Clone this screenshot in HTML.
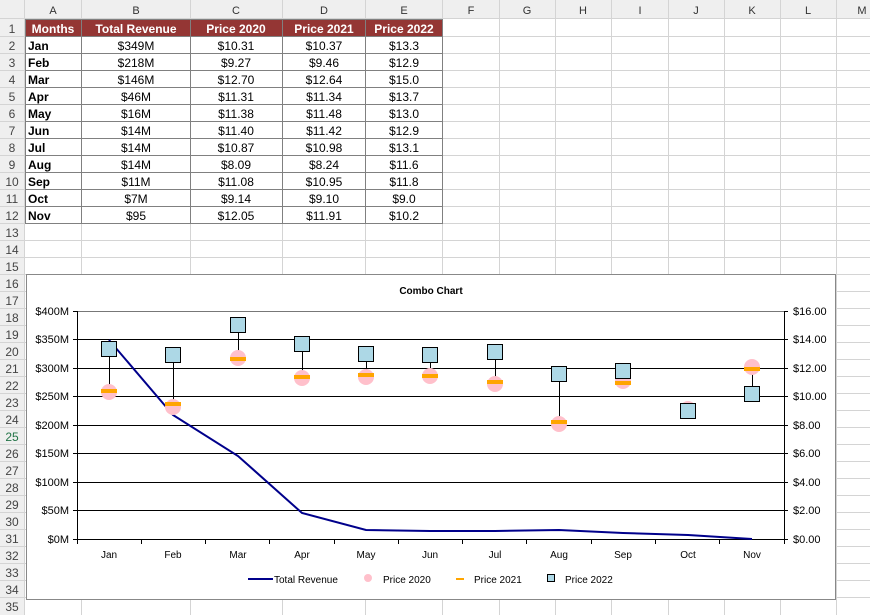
<!DOCTYPE html>
<html><head><meta charset="utf-8"><style>
body{margin:0;background:#fff;}
svg{display:block;font-family:"Liberation Sans",sans-serif;}
</style></head><body>
<svg width="870" height="615" viewBox="0 0 870 615" xmlns="http://www.w3.org/2000/svg">
<rect width="870" height="615" fill="#fff"/>
<!-- header row/col -->
<rect x="0" y="0" width="870" height="19" fill="#efefef"/>
<rect x="0" y="0" width="25" height="615" fill="#efefef"/>
<g stroke="#d4d4d4" stroke-width="1">
<line x1="0" y1="18.5" x2="870" y2="18.5"/>
<line x1="24.5" y1="0" x2="24.5" y2="615"/>
<!-- row lines -->
<line x1="0" y1="36.5" x2="870" y2="36.5"/><line x1="0" y1="53.5" x2="870" y2="53.5"/><line x1="0" y1="70.5" x2="870" y2="70.5"/><line x1="0" y1="87.5" x2="870" y2="87.5"/><line x1="0" y1="104.5" x2="870" y2="104.5"/><line x1="0" y1="121.5" x2="870" y2="121.5"/><line x1="0" y1="138.5" x2="870" y2="138.5"/><line x1="0" y1="155.5" x2="870" y2="155.5"/><line x1="0" y1="172.5" x2="870" y2="172.5"/><line x1="0" y1="189.5" x2="870" y2="189.5"/><line x1="0" y1="206.5" x2="870" y2="206.5"/><line x1="0" y1="223.5" x2="870" y2="223.5"/><line x1="0" y1="240.5" x2="870" y2="240.5"/><line x1="0" y1="257.5" x2="870" y2="257.5"/><line x1="0" y1="274.5" x2="870" y2="274.5"/><line x1="0" y1="291.5" x2="870" y2="291.5"/><line x1="0" y1="308.5" x2="870" y2="308.5"/><line x1="0" y1="325.5" x2="870" y2="325.5"/><line x1="0" y1="342.5" x2="870" y2="342.5"/><line x1="0" y1="359.5" x2="870" y2="359.5"/><line x1="0" y1="376.5" x2="870" y2="376.5"/><line x1="0" y1="393.5" x2="870" y2="393.5"/><line x1="0" y1="410.5" x2="870" y2="410.5"/><line x1="0" y1="427.5" x2="870" y2="427.5"/><line x1="0" y1="444.5" x2="870" y2="444.5"/><line x1="0" y1="461.5" x2="870" y2="461.5"/><line x1="0" y1="478.5" x2="870" y2="478.5"/><line x1="0" y1="495.5" x2="870" y2="495.5"/><line x1="0" y1="512.5" x2="870" y2="512.5"/><line x1="0" y1="529.5" x2="870" y2="529.5"/><line x1="0" y1="546.5" x2="870" y2="546.5"/><line x1="0" y1="563.5" x2="870" y2="563.5"/><line x1="0" y1="580.5" x2="870" y2="580.5"/><line x1="0" y1="597.5" x2="870" y2="597.5"/>
<!-- col lines -->
<line x1="81.5" y1="0" x2="81.5" y2="615"/><line x1="190.5" y1="0" x2="190.5" y2="615"/><line x1="282.5" y1="0" x2="282.5" y2="615"/><line x1="365.5" y1="0" x2="365.5" y2="615"/><line x1="442.5" y1="0" x2="442.5" y2="615"/><line x1="499.5" y1="0" x2="499.5" y2="615"/><line x1="555.5" y1="0" x2="555.5" y2="615"/><line x1="611.5" y1="0" x2="611.5" y2="615"/><line x1="668.5" y1="0" x2="668.5" y2="615"/><line x1="724.5" y1="0" x2="724.5" y2="615"/><line x1="780.5" y1="0" x2="780.5" y2="615"/><line x1="836.5" y1="0" x2="836.5" y2="615"/>
</g>
<!-- col header letters -->
<g font-size="11" fill="#333" text-anchor="middle">
<text x="53" y="14">A</text><text x="136" y="14">B</text><text x="236" y="14">C</text><text x="324" y="14">D</text><text x="404" y="14">E</text><text x="471" y="14">F</text><text x="527" y="14">G</text><text x="583" y="14">H</text><text x="640" y="14">I</text><text x="696" y="14">J</text><text x="752" y="14">K</text><text x="808" y="14">L</text><text x="862" y="14">M</text>
</g>
<g font-size="12" fill="#444" text-anchor="middle">
<text x="12" y="33">1</text><text x="12" y="50">2</text><text x="12" y="67">3</text><text x="12" y="84">4</text><text x="12" y="101">5</text><text x="12" y="118">6</text><text x="12" y="135">7</text><text x="12" y="152">8</text><text x="12" y="169">9</text><text x="12" y="186">10</text><text x="12" y="203">11</text><text x="12" y="220">12</text><text x="12" y="237">13</text><text x="12" y="254">14</text><text x="12" y="271">15</text><text x="12" y="288">16</text><text x="12" y="305">17</text><text x="12" y="322">18</text><text x="12" y="339">19</text><text x="12" y="356">20</text><text x="12" y="373">21</text><text x="12" y="390">22</text><text x="12" y="407">23</text><text x="12" y="424">24</text><text x="12" y="441" fill="#217346">25</text><text x="12" y="458">26</text><text x="12" y="475">27</text><text x="12" y="492">28</text><text x="12" y="509">29</text><text x="12" y="526">30</text><text x="12" y="543">31</text><text x="12" y="560">32</text><text x="12" y="577">33</text><text x="12" y="594">34</text><text x="12" y="611">35</text>
</g>
<!-- table -->
<rect x="25" y="19" width="418" height="18" fill="#943634"/>
<g stroke="#808080" stroke-width="1" fill="none">
<rect x="25.5" y="19.5" width="417" height="204"/>
<line x1="81.5" y1="19" x2="81.5" y2="224"/><line x1="190.5" y1="19" x2="190.5" y2="224"/><line x1="282.5" y1="19" x2="282.5" y2="224"/><line x1="365.5" y1="19" x2="365.5" y2="224"/>
<line x1="25" y1="36.5" x2="443" y2="36.5"/><line x1="25" y1="53.5" x2="443" y2="53.5"/><line x1="25" y1="70.5" x2="443" y2="70.5"/><line x1="25" y1="87.5" x2="443" y2="87.5"/><line x1="25" y1="104.5" x2="443" y2="104.5"/><line x1="25" y1="121.5" x2="443" y2="121.5"/><line x1="25" y1="138.5" x2="443" y2="138.5"/><line x1="25" y1="155.5" x2="443" y2="155.5"/><line x1="25" y1="172.5" x2="443" y2="172.5"/><line x1="25" y1="189.5" x2="443" y2="189.5"/><line x1="25" y1="206.5" x2="443" y2="206.5"/>
</g>
<g font-size="12" font-weight="bold" fill="#fff" text-anchor="middle">
<text x="53" y="33">Months</text><text x="136" y="33">Total Revenue</text><text x="236" y="33">Price 2020</text><text x="324" y="33">Price 2021</text><text x="404" y="33">Price 2022</text>
</g>
<g font-size="12" font-weight="bold" fill="#000">
<text x="28" y="50">Jan</text><text x="28" y="67">Feb</text><text x="28" y="84">Mar</text><text x="28" y="101">Apr</text><text x="28" y="118">May</text><text x="28" y="135">Jun</text><text x="28" y="152">Jul</text><text x="28" y="169">Aug</text><text x="28" y="186">Sep</text><text x="28" y="203">Oct</text><text x="28" y="220">Nov</text>
</g>
<g font-size="12" fill="#000" text-anchor="middle">
<text x="136" y="50">$349M</text><text x="236" y="50">$10.31</text><text x="324" y="50">$10.37</text><text x="404" y="50">$13.3</text>
<text x="136" y="67">$218M</text><text x="236" y="67">$9.27</text><text x="324" y="67">$9.46</text><text x="404" y="67">$12.9</text>
<text x="136" y="84">$146M</text><text x="236" y="84">$12.70</text><text x="324" y="84">$12.64</text><text x="404" y="84">$15.0</text>
<text x="136" y="101">$46M</text><text x="236" y="101">$11.31</text><text x="324" y="101">$11.34</text><text x="404" y="101">$13.7</text>
<text x="136" y="118">$16M</text><text x="236" y="118">$11.38</text><text x="324" y="118">$11.48</text><text x="404" y="118">$13.0</text>
<text x="136" y="135">$14M</text><text x="236" y="135">$11.40</text><text x="324" y="135">$11.42</text><text x="404" y="135">$12.9</text>
<text x="136" y="152">$14M</text><text x="236" y="152">$10.87</text><text x="324" y="152">$10.98</text><text x="404" y="152">$13.1</text>
<text x="136" y="169">$14M</text><text x="236" y="169">$8.09</text><text x="324" y="169">$8.24</text><text x="404" y="169">$11.6</text>
<text x="136" y="186">$11M</text><text x="236" y="186">$11.08</text><text x="324" y="186">$10.95</text><text x="404" y="186">$11.8</text>
<text x="136" y="203">$7M</text><text x="236" y="203">$9.14</text><text x="324" y="203">$9.10</text><text x="404" y="203">$9.0</text>
<text x="136" y="220">$95</text><text x="236" y="220">$12.05</text><text x="324" y="220">$11.91</text><text x="404" y="220">$10.2</text>
</g>
<!-- chart -->
<rect x="26.5" y="274.5" width="809" height="325" fill="#fff" stroke="#888"/>
<text x="431" y="294" font-size="10" font-weight="bold" text-anchor="middle">Combo Chart</text>
<g stroke="#000" stroke-width="1">
<line x1="77" y1="311.5" x2="784" y2="311.5" stroke="#777"/>
<line x1="77" y1="339.5" x2="784" y2="339.5"/><line x1="77" y1="368.5" x2="784" y2="368.5"/><line x1="77" y1="396.5" x2="784" y2="396.5"/><line x1="77" y1="425.5" x2="784" y2="425.5"/><line x1="77" y1="453.5" x2="784" y2="453.5"/><line x1="77" y1="482.5" x2="784" y2="482.5"/><line x1="77" y1="510.5" x2="784" y2="510.5"/>
<line x1="77.5" y1="311" x2="77.5" y2="539"/><line x1="784.5" y1="311" x2="784.5" y2="539"/>
<line x1="77" y1="539.5" x2="784" y2="539.5"/>
<!-- ticks -->
<line x1="73" y1="311.5" x2="77" y2="311.5"/><line x1="73" y1="339.5" x2="77" y2="339.5"/><line x1="73" y1="368.5" x2="77" y2="368.5"/><line x1="73" y1="396.5" x2="77" y2="396.5"/><line x1="73" y1="425.5" x2="77" y2="425.5"/><line x1="73" y1="453.5" x2="77" y2="453.5"/><line x1="73" y1="482.5" x2="77" y2="482.5"/><line x1="73" y1="510.5" x2="77" y2="510.5"/><line x1="73" y1="539.5" x2="77" y2="539.5"/>
<line x1="784" y1="311.5" x2="788" y2="311.5"/><line x1="784" y1="339.5" x2="788" y2="339.5"/><line x1="784" y1="368.5" x2="788" y2="368.5"/><line x1="784" y1="396.5" x2="788" y2="396.5"/><line x1="784" y1="425.5" x2="788" y2="425.5"/><line x1="784" y1="453.5" x2="788" y2="453.5"/><line x1="784" y1="482.5" x2="788" y2="482.5"/><line x1="784" y1="510.5" x2="788" y2="510.5"/><line x1="784" y1="539.5" x2="788" y2="539.5"/>
<line x1="77.5" y1="539" x2="77.5" y2="544"/><line x1="141.5" y1="539" x2="141.5" y2="544"/><line x1="205.5" y1="539" x2="205.5" y2="544"/><line x1="269.5" y1="539" x2="269.5" y2="544"/><line x1="334.5" y1="539" x2="334.5" y2="544"/><line x1="398.5" y1="539" x2="398.5" y2="544"/><line x1="462.5" y1="539" x2="462.5" y2="544"/><line x1="526.5" y1="539" x2="526.5" y2="544"/><line x1="591.5" y1="539" x2="591.5" y2="544"/><line x1="655.5" y1="539" x2="655.5" y2="544"/><line x1="719.5" y1="539" x2="719.5" y2="544"/><line x1="784.5" y1="539" x2="784.5" y2="544"/>
</g>
<g font-size="11" text-anchor="end">
<text x="69" y="315">$400M</text><text x="69" y="343">$350M</text><text x="69" y="372">$300M</text><text x="69" y="400">$250M</text><text x="69" y="429">$200M</text><text x="69" y="457">$150M</text><text x="69" y="486">$100M</text><text x="69" y="514">$50M</text><text x="69" y="543">$0M</text>
</g>
<g font-size="11">
<text x="793" y="315">$16.00</text><text x="793" y="343">$14.00</text><text x="793" y="372">$12.00</text><text x="793" y="400">$10.00</text><text x="793" y="429">$8.00</text><text x="793" y="457">$6.00</text><text x="793" y="486">$4.00</text><text x="793" y="514">$2.00</text><text x="793" y="543">$0.00</text>
</g>
<g font-size="10" text-anchor="middle">
<text x="109" y="558">Jan</text><text x="173" y="558">Feb</text><text x="238" y="558">Mar</text><text x="302" y="558">Apr</text><text x="366" y="558">May</text><text x="430" y="558">Jun</text><text x="495" y="558">Jul</text><text x="559" y="558">Aug</text><text x="623" y="558">Sep</text><text x="688" y="558">Oct</text><text x="752" y="558">Nov</text>
</g>
<!-- revenue line -->
<polyline fill="none" stroke="#00008b" stroke-width="2" points="109,340 173,415 238,456 302,513 366,530 430,531 495,531 559,530 623,533 688,535 752,539"/>
<!-- hi-lo lines -->
<g stroke="#000" stroke-width="1">
<line x1="109.5" y1="349" x2="109.5" y2="392"/><line x1="173.5" y1="355" x2="173.5" y2="407"/><line x1="238.5" y1="325" x2="238.5" y2="359"/><line x1="302.5" y1="344" x2="302.5" y2="378"/><line x1="366.5" y1="354" x2="366.5" y2="377"/><line x1="430.5" y1="355" x2="430.5" y2="377"/><line x1="495.5" y1="352" x2="495.5" y2="384"/><line x1="559.5" y1="374" x2="559.5" y2="424"/><line x1="623.5" y1="371" x2="623.5" y2="383"/><line x1="752.5" y1="367" x2="752.5" y2="394"/>
</g>
<!-- 2020 circles -->
<g fill="#ffc0cb">
<circle cx="109" cy="392" r="8"/><circle cx="173" cy="407" r="8"/><circle cx="238" cy="358" r="8"/><circle cx="302" cy="378" r="8"/><circle cx="366" cy="377" r="8"/><circle cx="430" cy="376" r="8"/><circle cx="495" cy="384" r="8"/><circle cx="559" cy="424" r="8"/><circle cx="623" cy="381" r="8"/><circle cx="688" cy="409" r="8"/><circle cx="752" cy="367" r="8"/>
</g>
<!-- 2021 dashes -->
<g fill="#ffa500">
<rect x="101" y="389" width="16" height="4"/><rect x="165" y="402" width="16" height="4"/><rect x="230" y="357" width="16" height="4"/><rect x="294" y="375" width="16" height="4"/><rect x="358" y="373" width="16" height="4"/><rect x="422" y="374" width="16" height="4"/><rect x="487" y="380" width="16" height="4"/><rect x="551" y="420" width="16" height="4"/><rect x="615" y="381" width="16" height="4"/><rect x="680" y="407" width="16" height="4"/><rect x="744" y="367" width="16" height="4"/>
</g>
<!-- 2022 squares -->
<g fill="#add8e6" stroke="#000" stroke-width="1">
<rect x="101.5" y="341.5" width="15" height="15"/><rect x="165.5" y="347.5" width="15" height="15"/><rect x="230.5" y="317.5" width="15" height="15"/><rect x="294.5" y="336.5" width="15" height="15"/><rect x="358.5" y="346.5" width="15" height="15"/><rect x="422.5" y="347.5" width="15" height="15"/><rect x="487.5" y="344.5" width="15" height="15"/><rect x="551.5" y="366.5" width="15" height="15"/><rect x="615.5" y="363.5" width="15" height="15"/><rect x="680.5" y="403.5" width="15" height="15"/><rect x="744.5" y="386.5" width="15" height="15"/>
</g>
<!-- legend -->
<line x1="248" y1="579" x2="273" y2="579" stroke="#00008b" stroke-width="2"/>
<circle cx="368" cy="578" r="4" fill="#ffc0cb"/>
<rect x="456" y="578" width="8" height="2" fill="#ffa500"/>
<rect x="547.5" y="574.5" width="7" height="7" fill="#add8e6" stroke="#000"/>
<g font-size="10">
<text x="274" y="583">Total Revenue</text><text x="383" y="583">Price 2020</text><text x="474" y="583">Price 2021</text><text x="565" y="583">Price 2022</text>
</g>
</svg>
</body></html>
